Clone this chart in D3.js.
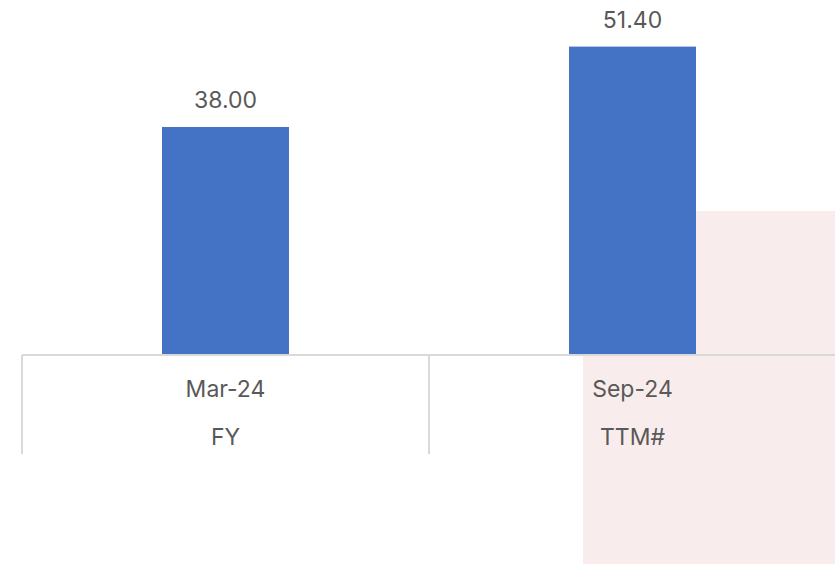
<!DOCTYPE html>
<html lang="en">
<head>
    <meta charset="UTF-8">
    <title>Chart</title>
    <style>
        body { margin: 0; background: #fff; }
        text { font-family: Inter, 'Open Sans', sans-serif; fill: #595959; }
    </style>
</head>
<body>
    <svg id="svg" width="835" height="564"></svg>

    <script src="https://d3js.org/d3.v7.min.js"></script>
    <script>
        // data
        const periods = ['Mar-24', 'Sep-24']
        const periodTypes = ['FY', 'TTM#']
        const values = [38.00, 51.40]

        const width = 835, height = 564
        const baseY = 355

        const xScale = d3.scaleBand()
            .domain(periods)
            .range([22, 836])
            .paddingInner(0)
            .paddingOuter(0)
        const yScale = d3.scaleLinear()
            .domain([0, 60])
            .range([baseY, -5])

        const svg = d3.select('#svg')

        // pink highlight panel behind the chart
        svg.append('rect')
            .attr('x', 583)
            .attr('y', 211)
            .attr('width', width - 583)
            .attr('height', height - 211)
            .attr('fill', '#f9ecec')

        const barW = 127
        const cx = d => xScale(d) + xScale.bandwidth() / 2

        // bars
        svg.selectAll('.bar')
            .data(values)
            .enter()
            .append('rect')
            .attr('class', 'bar')
            .attr('x', (d, i) => cx(periods[i]) - barW / 2)
            .attr('y', d => yScale(d))
            .attr('width', barW)
            .attr('height', d => baseY - yScale(d))
            .attr('fill', '#4472c4')

        // value labels
        svg.selectAll('.val')
            .data(values)
            .enter()
            .append('text')
            .attr('x', (d, i) => cx(periods[i]))
            .attr('y', d => yScale(d) - 19)
            .attr('text-anchor', 'middle')
            .style('font-size', '23px')
            .text(d => d.toFixed(2))

        // axis line and table borders
        svg.append('line')
            .attr('x1', 22).attr('x2', width)
            .attr('y1', baseY).attr('y2', baseY)
            .attr('stroke', '#d9d9d9').attr('stroke-width', 2)

        svg.selectAll('.sep')
            .data(periods)
            .enter()
            .append('line')
            .attr('x1', d => xScale(d)).attr('x2', d => xScale(d))
            .attr('y1', baseY).attr('y2', 454)
            .attr('stroke', '#d9d9d9').attr('stroke-width', 2)

        // category labels
        svg.selectAll('.cat')
            .data(periods)
            .enter()
            .append('text')
            .attr('x', d => cx(d))
            .attr('y', 397)
            .attr('text-anchor', 'middle')
            .style('font-size', '23px')
            .text(d => d)

        svg.selectAll('.type')
            .data(periodTypes)
            .enter()
            .append('text')
            .attr('x', (d, i) => cx(periods[i]))
            .attr('y', 445)
            .attr('text-anchor', 'middle')
            .style('font-size', '23px')
            .text(d => d)
    </script>
</body>
</html>
